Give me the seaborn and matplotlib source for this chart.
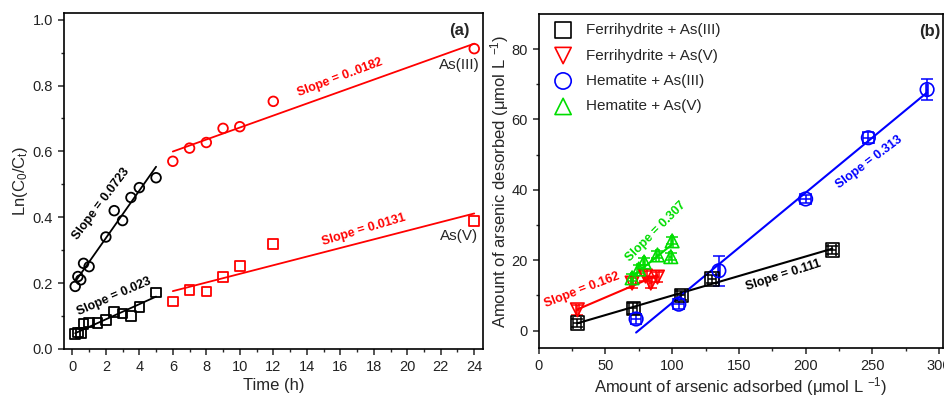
import numpy as np
import matplotlib
matplotlib.use("Agg")
import matplotlib.pyplot as plt
import seaborn as sns

sns.set_style("ticks")
plt.rcParams['font.family'] = ['Liberation Sans', 'DejaVu Sans']
plt.rcParams['mathtext.default'] = 'regular'

# panel (a): kinetics, Ln(C0/Ct) vs time
t_early_iii = [0.17, 0.33, 0.5, 0.67, 1, 2, 2.5, 3, 3.5, 4, 5]
v_early_iii = [0.19, 0.22, 0.21, 0.26, 0.25, 0.34, 0.42, 0.39, 0.46, 0.49, 0.52]
t_late_iii = [6, 7, 8, 9, 10, 12, 24]
v_late_iii = [0.57, 0.61, 0.627, 0.67, 0.675, 0.752, 0.912]
t_early_v = [0.17, 0.33, 0.5, 0.67, 1, 1.5, 2, 2.5, 3, 3.5, 4, 5]
v_early_v = [0.045, 0.05, 0.048, 0.075, 0.08, 0.078, 0.088, 0.113, 0.108, 0.1, 0.127, 0.172]
t_late_v = [6, 7, 8, 9, 10, 12, 24]
v_late_v = [0.144, 0.18, 0.174, 0.218, 0.252, 0.318, 0.389]
slopes_a = [0.0723, 0.0182, 0.023, 0.0131]
slope_text_a = ['Slope = 0.0723', 'Slope = 0..0182', 'Slope = 0.023', 'Slope = 0.0131']

# panel (b): desorbed vs adsorbed
series_b = ['Ferrihydrite + As(III)', 'Ferrihydrite + As(V)', 'Hematite + As(III)', 'Hematite + As(V)']
fa3_x = [29, 71, 107, 130, 220]
fa3_y = [2.2, 6.3, 10, 14.7, 22.9]
fa3_xerr = [3, 3, 3, 3, 3]
fa3_yerr = [1.2, 1.5, 1.2, 1.2, 1.2]
fa5_x = [29, 70, 80, 84, 89]
fa5_y = [5.9, 13.5, 15.5, 13.5, 15.2]
fa5_xerr = [1, 1, 1, 1, 1]
fa5_yerr = [1.5, 1.5, 1.5, 1.5, 1.5]
ha3_x = [73, 105, 135, 200, 247, 291]
ha3_y = [3.3, 7.5, 17, 37.4, 54.8, 68.5]
ha3_xerr = [4, 4, 1, 4, 4, 1]
ha3_yerr = [1.5, 1.5, 4.2, 1.2, 1.5, 3]
ha5_x = [70, 75, 79, 89, 99, 100]
ha5_y = [15, 17.5, 19.5, 21.5, 21, 25.5]
ha5_xerr = [1, 1, 1, 1, 1, 1]
ha5_yerr = [1, 1, 1, 1, 1, 1]
slopes_b = [0.111, 0.162, 0.313, 0.307]


def fit_line(x, y, slope):
    x = np.asarray(x, float)
    y = np.asarray(y, float)
    b = y.mean() - slope * x.mean()
    xs = np.array([x.min(), x.max()])
    return xs, slope * xs + b


fig = plt.figure(figsize=(9.45, 3.97), dpi=100)
ax1 = fig.add_axes([0.0677, 0.121, 0.443, 0.846])
ax2 = fig.add_axes([0.570, 0.123, 0.428, 0.842])

# ---- panel (a)
groups_a = [(t_early_iii, v_early_iii, 'black', 'o', slopes_a[0]),
            (t_late_iii, v_late_iii, 'red', 'o', slopes_a[1]),
            (t_early_v, v_early_v, 'black', 's', slopes_a[2]),
            (t_late_v, v_late_v, 'red', 's', slopes_a[3])]
for x, y, c, m, sl in groups_a:
    xs, ys = fit_line(x, y, sl)
    sns.lineplot(x=xs, y=ys, color=c, lw=1.3, ax=ax1)
    sns.scatterplot(x=x, y=y, marker=m, s=48, facecolor='none', edgecolor=c,
                    linewidth=1.3, ax=ax1, zorder=3)

ax1.set_xlim(-0.5, 24.5)
ax1.set_ylim(0, 1.02)
ax1.set_xticks(np.arange(0, 25, 2))
ax1.set_xticks(np.arange(0, 25, 1), minor=True)
ax1.set_yticks(np.arange(0, 1.01, 0.2))
ax1.set_yticks(np.arange(0, 1.01, 0.1), minor=True)
ax1.yaxis.set_major_formatter(matplotlib.ticker.FormatStrFormatter('%.1f'))
ax1.set_xlabel('Time (h)', fontsize=12, labelpad=3)
ax1.set_ylabel('Ln(C$_0$/C$_t$)', fontsize=12, labelpad=2)

kw = dict(fontsize=9, fontweight='bold', ha='center', va='center', rotation_mode='anchor')
ax1.text(1.74, 0.44, slope_text_a[0], color='black', rotation=53, **kw)
ax1.text(16.0, 0.824, slope_text_a[1], color='red', rotation=20.6, **kw)
ax1.text(2.5, 0.158, slope_text_a[2], color='black', rotation=23.5, **kw)
ax1.text(17.4, 0.362, slope_text_a[3], color='red', rotation=16.6, **kw)
ax1.text(23.1, 0.863, 'As(III)', fontsize=11, ha='center', va='center')
ax1.text(23.1, 0.343, 'As(V)', fontsize=11, ha='center', va='center')
ax1.text(23.1, 0.967, '(a)', fontsize=12, fontweight='bold', ha='center', va='center')

# ---- panel (b)
groups_b = [(fa3_x, fa3_y, fa3_xerr, fa3_yerr, 'black', 's', slopes_b[0]),
            (fa5_x, fa5_y, fa5_xerr, fa5_yerr, 'red', 'v', slopes_b[1]),
            (ha3_x, ha3_y, ha3_xerr, ha3_yerr, 'blue', 'o', slopes_b[2]),
            (ha5_x, ha5_y, ha5_xerr, ha5_yerr, '#00dd00', '^', slopes_b[3])]
for (x, y, xe, ye, c, m, sl), name in zip(groups_b, series_b):
    xs, ys = fit_line(x, y, sl)
    sns.lineplot(x=xs, y=ys, color=c, lw=1.5, ax=ax2)
    ax2.errorbar(x, y, xerr=xe, yerr=ye, fmt='none', ecolor=c, elinewidth=1.1,
                 capsize=4, capthick=1.1, zorder=3)
    sns.scatterplot(x=x, y=y, marker=m, s=95, facecolor='none', edgecolor=c,
                    linewidth=1.2, ax=ax2, zorder=4, label=name)

ax2.set_xlim(0, 303)
ax2.set_ylim(-5, 90)
ax2.set_xticks(np.arange(0, 301, 50))
ax2.set_xticks(np.arange(0, 301, 25), minor=True)
ax2.set_yticks(np.arange(0, 81, 20))
ax2.set_yticks(np.arange(0, 81, 10), minor=True)
ax2.set_xlabel('Amount of arsenic adsorbed (μmol L $^{-1}$)', fontsize=12, labelpad=1)
ax2.set_ylabel('Amount of arsenic desorbed (μmol L $^{-1}$)', fontsize=12, labelpad=0)

ax2.text(183, 15.6, 'Slope = 0.111', color='black', rotation=17.8, **kw)
ax2.text(32.6, 11.6, 'Slope = 0.162', color='red', rotation=21, **kw)
ax2.text(248, 47.9, 'Slope = 0.313', color='blue', rotation=37, **kw)
ax2.text(88, 28, 'Slope = 0.307', color='#00dd00', rotation=45, **kw)
ax2.text(293, 85, '(b)', fontsize=12, fontweight='bold', ha='center', va='center')

leg = ax2.legend(loc='upper left', frameon=False, fontsize=11, handletextpad=0.5,
                 labelspacing=0.75, borderaxespad=0.2, markerscale=1.2)

for ax in (ax1, ax2):
    for sp in ax.spines.values():
        sp.set_visible(True)
        sp.set_linewidth(1.2)
        sp.set_color('black')
    ax.tick_params(which='major', direction='out', length=4.5, width=1.1,
                   labelsize=10.5, labelcolor='#222222', top=False, right=False)
    ax.tick_params(which='minor', direction='out', length=2.5, width=1.0,
                   top=False, right=False)

fig.savefig('out.png', dpi=100)
